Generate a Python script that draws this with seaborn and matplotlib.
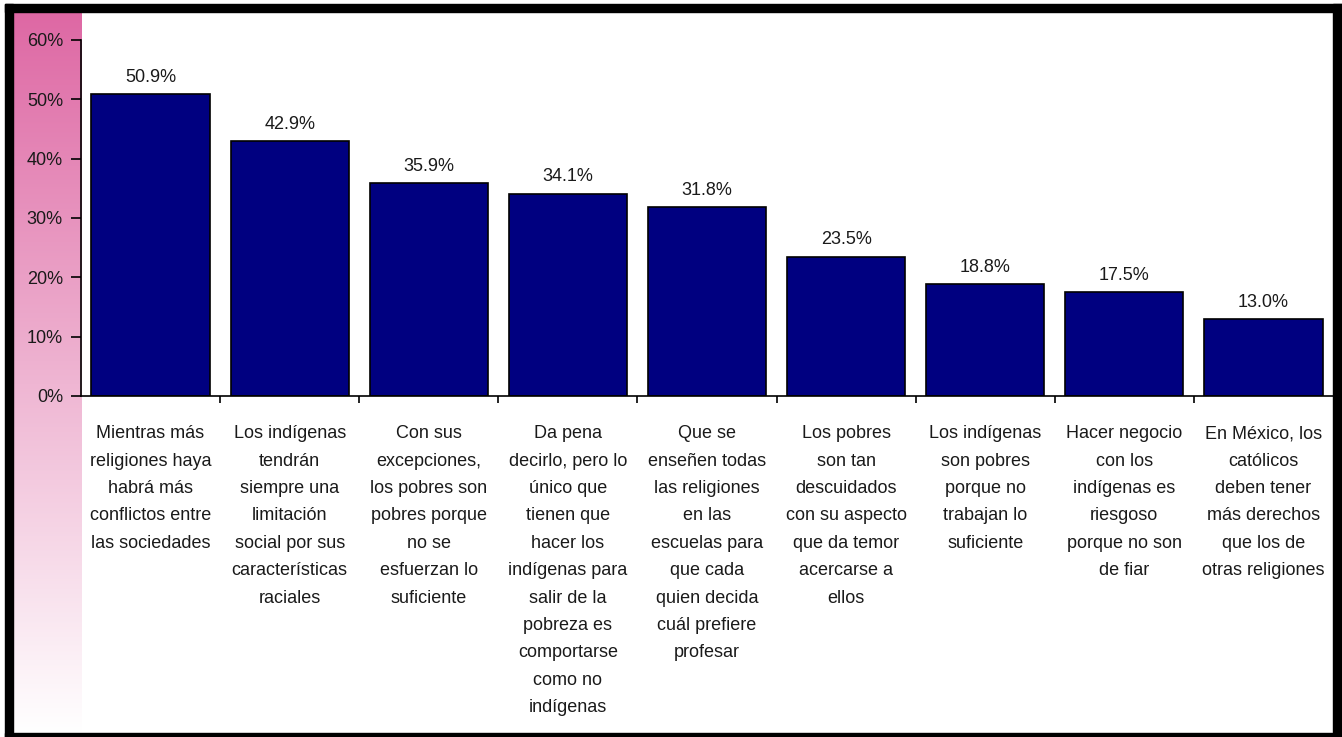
import numpy as np
import pandas as pd
import matplotlib
matplotlib.use("Agg")
import matplotlib.pyplot as plt
from matplotlib.patches import Rectangle
import seaborn as sns

categories = [
    "Mientras más\nreligiones haya\nhabrá más\nconflictos entre\nlas sociedades",
    "Los indígenas\ntendrán\nsiempre una\nlimitación\nsocial por sus\ncaracterísticas\nraciales",
    "Con sus\nexcepciones,\nlos pobres son\npobres porque\nno se\nesfuerzan lo\nsuficiente",
    "Da pena\ndecirlo, pero lo\núnico que\ntienen que\nhacer los\nindígenas para\nsalir de la\npobreza es\ncomportarse\ncomo no\nindígenas",
    "Que se\nenseñen todas\nlas religiones\nen las\nescuelas para\nque cada\nquien decida\ncuál prefiere\nprofesar",
    "Los pobres\nson tan\ndescuidados\ncon su aspecto\nque da temor\nacercarse a\nellos",
    "Los indígenas\nson pobres\nporque no\ntrabajan lo\nsuficiente",
    "Hacer negocio\ncon los\nindígenas es\nriesgoso\nporque no son\nde fiar",
    "En México, los\ncatólicos\ndeben tener\nmás derechos\nque los de\notras religiones",
]
values = [50.9, 42.9, 35.9, 34.1, 31.8, 23.5, 18.8, 17.5, 13.0]
y_ticks = [0, 10, 20, 30, 40, 50, 60]

sns.set_style("white")
plt.rcParams["font.family"] = ["Liberation Sans", "DejaVu Sans"]

W, H = 1342, 737
fig = plt.figure(figsize=(W / 100, H / 100), dpi=100)

# pink gradient strip on the left
grad_ax = fig.add_axes([13 / W, 1 - 733 / H, (82 - 13) / W, (733 - 12) / H])
top = np.array([222, 104, 164]) / 255
bot = np.array([255, 255, 255]) / 255
t = np.linspace(0, 1, 256)[:, None]
grad = (top * (1 - t) + bot * t)[:, None, :]
grad_ax.imshow(grad, aspect="auto", extent=[0, 1, 0, 1])
grad_ax.set_axis_off()

ax = fig.add_axes([81 / W, 1 - 396 / H, (1333 - 81) / W, (396 - 40) / H])
ax.patch.set_alpha(0)

df = pd.DataFrame({"cat": categories, "val": values})
sns.barplot(data=df, x="cat", y="val", color="#000080", edgecolor="black",
            linewidth=1.2, width=0.85, saturation=1, ax=ax)

ax.set_ylim(0, 60)
ax.set_xlim(-0.5, len(values) - 0.5)
ax.set_yticks(y_ticks)
ax.set_yticklabels([f"{v}%" for v in y_ticks], fontsize=13, color="#1a1a1a")
ax.set_xlabel("")
ax.set_ylabel("")

ax.set_xticks(range(len(categories)))
ax.set_xticklabels(categories, fontsize=13, color="#1a1a1a", linespacing=1.8,
                   va="top")
ax.tick_params(axis="x", which="major", bottom=False, length=0, pad=21)
ax.set_xticks(np.arange(0.5, len(values) - 0.5, 1), minor=True)
ax.tick_params(axis="x", which="minor", bottom=True, length=5, width=1.2,
               color="black", direction="out")
ax.tick_params(axis="y", left=True, length=7, width=1.2, color="black",
               direction="out", pad=6)

for s in ["top", "right"]:
    ax.spines[s].set_visible(False)
for s in ["left", "bottom"]:
    ax.spines[s].set_color("black")
    ax.spines[s].set_linewidth(1.2)

for i, v in enumerate(values):
    ax.annotate(f"{v:.1f}%", (i, v), xytext=(0, 6), textcoords="offset points",
                ha="center", va="bottom", fontsize=13, color="#1a1a1a")

# black frame around the figure
frame = [
    (5, 4, 8, 733),       # left
    (5, 4, 1337, 8),      # top
    (1333, 4, 9, 733),    # right
    (5, 733, 1337, 4),    # bottom
]
for x0, y0, w, h in frame:
    fig.patches.append(Rectangle((x0 / W, 1 - (y0 + h) / H), w / W, h / H,
                                 transform=fig.transFigure, color="black",
                                 zorder=10))

fig.savefig("out.png", dpi=100)
